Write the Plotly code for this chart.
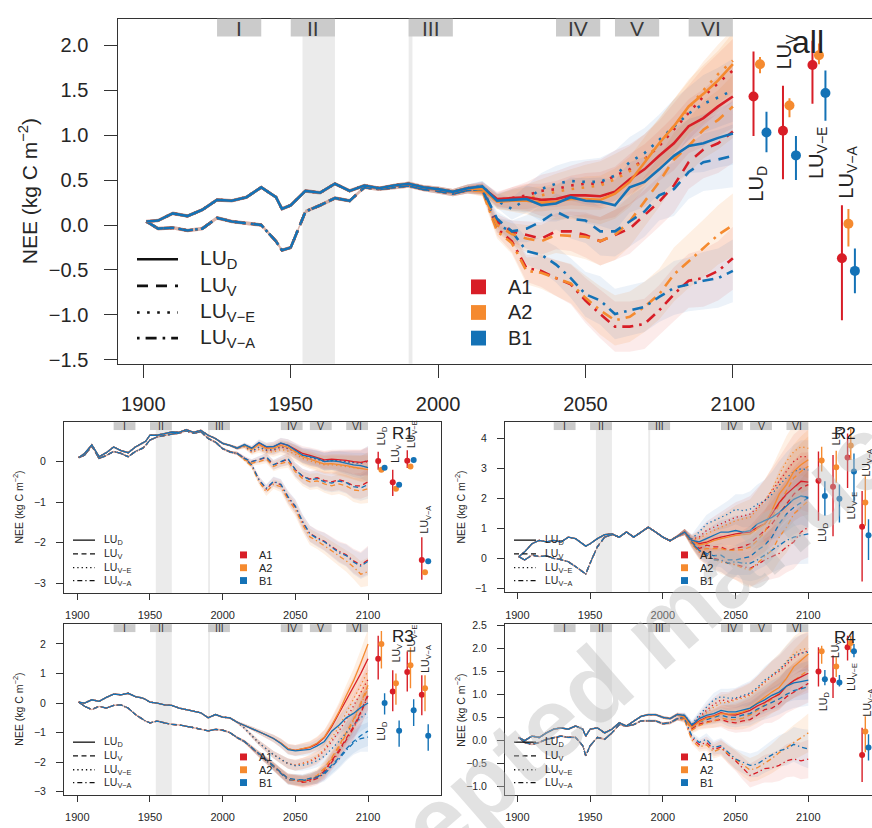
import plotly.graph_objects as go

W, H = 872, 828

# ---------------- data ----------------
HIST_YEARS = [1901, 1905, 1910, 1915, 1920, 1925, 1930, 1935, 1940, 1945, 1947,
              1950, 1955, 1960, 1965, 1970, 1975, 1980, 1985, 1990, 1995, 2000, 2005, 2010]
FUT_YEARS = [2015, 2020, 2025, 2030, 2035, 2040, 2045, 2050, 2055, 2060,
             2065, 2070, 2075, 2080, 2085, 2090, 2095, 2100]
HIST_SPREAD = [0.02, 0.02, 0.02, 0.02, 0.02, 0.02, 0.02, 0.02, 0.02, 0.02, 0.02, 0.02,
               0.02, 0.02, 0.02, 0.02, 0.02, 0.02, 0.02, 0.025, 0.025, 0.03, 0.03, 0.04]

SCENARIOS = ["A1", "A2", "B1"]
LAND_USES = ["D", "V", "VE", "VA"]
LU_LABELS = ["LU<sub>D</sub>", "LU<sub>V</sub>", "LU<sub>V\u2212E</sub>", "LU<sub>V\u2212A</sub>"]
PERIOD_LABELS = ["I", "II", "III", "IV", "V", "VI"]
PERIOD_START = [1925, 1950, 1990, 2040, 2060, 2085]
PERIOD_END = [1940, 1965, 2005, 2055, 2075, 2100]
SHADE_START = [1954, 1990]
SHADE_END = [1965, 1991.3]
PANEL_NAMES = ["all", "R1", "R2", "R3", "R4"]

# ---- all ----
ALL_UP = [0.04, 0.05, 0.13, 0.10, 0.17, 0.28, 0.27, 0.31, 0.42, 0.31, 0.18, 0.22, 0.38, 0.36, 0.46, 0.38, 0.44, 0.41, 0.44, 0.46, 0.42, 0.40, 0.37, 0.41]
ALL_LO = [0.04, -0.04, -0.03, -0.06, -0.04, 0.08, 0.04, 0.02, 0.00, -0.18, -0.28, -0.25, 0.15, 0.22, 0.30, 0.27, 0.42, 0.40, 0.42, 0.44, 0.40, 0.38, 0.35, 0.39]
ALL_D_A1 = [0.42, 0.29, 0.30, 0.31, 0.28, 0.29, 0.33, 0.33, 0.32, 0.37, 0.51, 0.62, 0.77, 0.91, 1.10, 1.19, 1.32, 1.43]
ALL_D_A2 = [0.40, 0.26, 0.27, 0.27, 0.25, 0.26, 0.29, 0.29, 0.28, 0.35, 0.48, 0.70, 0.91, 1.10, 1.32, 1.46, 1.61, 1.79]
ALL_D_B1 = [0.43, 0.27, 0.28, 0.29, 0.22, 0.24, 0.31, 0.27, 0.26, 0.22, 0.42, 0.48, 0.62, 0.77, 0.88, 0.91, 0.97, 1.02]
ALL_VE_A1 = [0.42, 0.28, 0.30, 0.33, 0.38, 0.40, 0.44, 0.46, 0.46, 0.55, 0.62, 0.73, 0.88, 1.06, 1.25, 1.43, 1.58, 1.72]
ALL_VE_A2 = [0.40, 0.26, 0.28, 0.30, 0.33, 0.37, 0.40, 0.42, 0.44, 0.51, 0.60, 0.73, 0.90, 1.10, 1.30, 1.50, 1.68, 1.83]
ALL_VE_B1 = [0.43, 0.27, 0.18, 0.29, 0.40, 0.46, 0.49, 0.48, 0.48, 0.55, 0.70, 0.80, 0.95, 1.10, 1.24, 1.35, 1.42, 1.50]
ALL_V_A1 = [0.40, 0.04, -0.07, -0.11, -0.15, -0.07, -0.07, -0.11, -0.18, -0.11, -0.04, 0.11, 0.26, 0.44, 0.70, 0.84, 0.91, 1.04]
ALL_V_A2 = [0.38, 0.00, -0.10, -0.15, -0.18, -0.11, -0.12, -0.13, -0.18, -0.11, 0.04, 0.26, 0.48, 0.73, 0.88, 1.06, 1.17, 1.32]
ALL_V_B1 = [0.40, 0.07, -0.07, -0.04, 0.04, 0.15, 0.07, 0.05, -0.07, -0.07, 0.04, 0.15, 0.33, 0.40, 0.59, 0.70, 0.73, 0.77]
ALL_VA_A1 = [0.40, -0.04, -0.18, -0.48, -0.51, -0.59, -0.66, -0.84, -0.99, -1.13, -1.13, -1.10, -0.95, -0.77, -0.62, -0.59, -0.51, -0.37]
ALL_VA_A2 = [0.38, -0.07, -0.20, -0.51, -0.53, -0.59, -0.65, -0.81, -0.95, -1.06, -1.02, -0.91, -0.77, -0.55, -0.40, -0.26, -0.11, 0.00]
ALL_VA_B1 = [0.40, 0.00, -0.07, -0.29, -0.33, -0.44, -0.59, -0.77, -0.84, -0.99, -0.95, -0.91, -0.80, -0.70, -0.66, -0.62, -0.59, -0.51]
ALL_SPREAD = [0.06, 0.08, 0.12, 0.15, 0.18, 0.20, 0.22, 0.25, 0.27, 0.28, 0.28, 0.28, 0.28, 0.30, 0.30, 0.32, 0.33, 0.35]
ALL_MEAN_A1 = [1.43, 1.05, 1.78, -0.37]
ALL_LOW_A1 = [0.99, 0.51, 1.35, -1.06]
ALL_HIGH_A1 = [1.93, 1.55, 2.05, 0.22]
ALL_MEAN_A2 = [1.79, 1.33, 1.89, 0.015]
ALL_LOW_A2 = [1.69, 1.20, 1.79, -0.24]
ALL_HIGH_A2 = [1.87, 1.41, 2.02, 0.18]
ALL_MEAN_B1 = [1.03, 0.775, 1.47, -0.51]
ALL_LOW_B1 = [0.81, 0.50, 1.16, -0.76]
ALL_HIGH_B1 = [1.26, 0.99, 1.72, -0.26]
ALL_LABEL_X = [2108.5, 2118.0, 2128.5, 2138.6]
ALL_LABEL_Y = [0.46, 1.93, 0.80, 0.59]

# ---- R1 ----
R1_UP = [0.10, 0.20, 0.41, 0.12, 0.22, 0.36, 0.27, 0.22, 0.36, 0.45, 0.50, 0.65, 0.65, 0.69, 0.73, 0.72, 0.79, 0.72, 0.77, 0.65, 0.57, 0.45, 0.40, 0.33]
R1_LO = [0.10, 0.16, 0.38, 0.08, 0.15, 0.25, 0.20, 0.12, 0.25, 0.33, 0.40, 0.53, 0.61, 0.65, 0.68, 0.70, 0.76, 0.70, 0.74, 0.57, 0.48, 0.32, 0.24, 0.20]
R1_D_A1 = [0.41, 0.33, 0.46, 0.36, 0.37, 0.45, 0.40, 0.30, 0.20, 0.15, 0.10, 0.04, 0.06, 0.05, 0.03, 0.00, -0.02, 0.02]
R1_D_A2 = [0.40, 0.30, 0.42, 0.32, 0.33, 0.40, 0.35, 0.24, 0.12, 0.06, 0.00, -0.06, -0.05, -0.07, -0.10, -0.14, -0.17, -0.20]
R1_D_B1 = [0.42, 0.33, 0.47, 0.37, 0.37, 0.46, 0.40, 0.28, 0.16, 0.12, 0.08, 0.00, 0.02, 0.00, -0.04, -0.08, -0.10, -0.15]
R1_VE_A1 = [0.38, 0.25, 0.35, 0.28, 0.28, 0.36, 0.32, 0.24, 0.15, 0.10, 0.06, 0.02, 0.03, 0.02, 0.00, -0.02, -0.04, 0.00]
R1_VE_A2 = [0.36, 0.22, 0.30, 0.24, 0.24, 0.30, 0.26, 0.18, 0.08, 0.02, -0.04, -0.08, -0.08, -0.10, -0.12, -0.15, -0.18, -0.12]
R1_VE_B1 = [0.39, 0.26, 0.36, 0.29, 0.30, 0.38, 0.33, 0.25, 0.14, 0.10, 0.06, 0.00, 0.02, 0.02, 0.00, -0.03, -0.05, 0.04]
R1_V_A1 = [0.08, 0.00, 0.05, 0.10, -0.08, 0.00, 0.06, -0.20, -0.36, -0.43, -0.40, -0.47, -0.50, -0.45, -0.50, -0.60, -0.60, -0.50]
R1_V_A2 = [0.05, -0.04, 0.00, 0.06, -0.12, -0.05, 0.00, -0.25, -0.42, -0.50, -0.48, -0.55, -0.60, -0.55, -0.60, -0.70, -0.72, -0.67]
R1_V_B1 = [0.08, 0.00, 0.05, 0.12, -0.08, 0.00, 0.07, -0.20, -0.36, -0.45, -0.42, -0.50, -0.53, -0.48, -0.52, -0.62, -0.65, -0.57]
R1_VA_A1 = [0.08, -0.08, -0.45, -0.68, -0.50, -0.57, -0.89, -1.12, -1.50, -1.78, -1.88, -1.97, -2.10, -2.22, -2.30, -2.45, -2.55, -2.43]
R1_VA_A2 = [0.05, -0.12, -0.50, -0.75, -0.56, -0.62, -0.94, -1.18, -1.56, -1.86, -1.96, -2.07, -2.20, -2.33, -2.45, -2.60, -2.78, -2.72]
R1_VA_B1 = [0.08, -0.08, -0.45, -0.66, -0.49, -0.56, -0.87, -1.10, -1.48, -1.78, -1.90, -1.98, -2.12, -2.25, -2.32, -2.48, -2.58, -2.46]
R1_SPREAD = [0.05, 0.06, 0.08, 0.10, 0.12, 0.13, 0.15, 0.17, 0.18, 0.20, 0.20, 0.22, 0.23, 0.25, 0.27, 0.30, 0.32, 0.35]
R1_MEAN_A1 = [0.015, -0.51, 0.02, -2.43]
R1_LOW_A1 = [-0.20, -0.85, -0.16, -2.92]
R1_HIGH_A1 = [0.24, -0.20, 0.28, -1.87]
R1_MEAN_A2 = [-0.20, -0.67, -0.12, -2.73]
R1_LOW_A2 = [-0.25, -0.72, -0.17, -2.78]
R1_HIGH_A2 = [-0.15, -0.62, -0.07, -2.68]
R1_MEAN_B1 = [-0.15, -0.57, 0.04, -2.46]
R1_LOW_B1 = [-0.20, -0.62, -0.01, -2.51]
R1_HIGH_B1 = [-0.10, -0.52, 0.09, -2.41]
R1_LABEL_X = [2109.4, 2119.5, 2129.8, 2139.8]
R1_LABEL_Y = [0.64, 0.20, 0.69, -1.43]

# ---- R2 ----
R2_UP = [0.07, 0.23, 0.50, 0.61, 0.56, 0.61, 0.56, 0.72, 0.67, 0.50, 0.42, 0.50, 0.67, 0.80, 0.83, 0.72, 0.89, 0.72, 0.89, 1.05, 0.89, 0.72, 0.60, 0.75]
R2_LO = [0.07, -0.04, 0.12, 0.07, 0.10, 0.01, -0.03, -0.10, -0.26, -0.43, -0.51, -0.15, 0.40, 0.72, 0.80, 0.72, 0.89, 0.72, 0.89, 1.05, 0.89, 0.72, 0.60, 0.75]
R2_D_A1 = [0.89, 0.61, 0.50, 0.55, 0.65, 0.72, 0.78, 0.83, 0.86, 0.89, 1.05, 1.16, 1.49, 1.87, 2.15, 2.36, 2.58, 2.55]
R2_D_A2 = [0.89, 0.61, 0.46, 0.50, 0.60, 0.67, 0.72, 0.78, 0.80, 0.83, 1.00, 1.16, 1.60, 2.15, 2.47, 2.91, 3.13, 3.30]
R2_D_B1 = [0.89, 0.61, 0.56, 0.67, 0.78, 0.89, 0.89, 0.94, 0.89, 0.94, 1.16, 1.27, 1.38, 1.54, 1.76, 1.98, 2.09, 2.04]
R2_VE_A1 = [0.89, 0.65, 0.72, 0.94, 1.05, 1.16, 1.27, 1.38, 1.42, 1.49, 1.71, 1.93, 2.26, 2.58, 2.91, 3.24, 3.40, 3.40]
R2_VE_A2 = [0.89, 0.63, 0.67, 0.83, 0.94, 1.05, 1.16, 1.27, 1.33, 1.38, 1.65, 1.93, 2.30, 2.80, 3.24, 3.57, 3.73, 3.68]
R2_VE_B1 = [0.89, 0.67, 0.89, 1.16, 1.27, 1.38, 1.49, 1.65, 1.60, 1.65, 1.82, 1.93, 2.15, 2.45, 2.70, 2.90, 3.00, 2.95]
R2_V_A1 = [0.89, 0.55, 0.34, 0.45, 0.40, 0.39, 0.28, 0.34, 0.40, 0.50, 0.72, 0.94, 1.16, 1.49, 1.82, 2.15, 2.36, 2.47]
R2_V_A2 = [0.89, 0.52, 0.28, 0.34, 0.34, 0.34, 0.28, 0.28, 0.30, 0.39, 0.61, 0.89, 1.38, 1.82, 2.26, 2.69, 2.91, 3.08]
R2_V_B1 = [0.89, 0.56, 0.28, 0.18, 0.10, 0.12, -0.04, -0.04, 0.01, 0.07, 0.28, 0.45, 0.72, 1.16, 1.49, 1.71, 1.87, 2.04]
R2_VA_A1 = [0.89, 0.50, 0.23, 0.12, 0.01, -0.04, -0.15, -0.20, -0.26, -0.32, -0.20, -0.04, 0.07, 0.18, 0.39, 0.56, 0.89, 1.05]
R2_VA_A2 = [0.89, 0.48, 0.23, 0.07, -0.02, -0.10, -0.15, -0.20, -0.32, -0.37, -0.15, 0.07, 0.28, 0.72, 1.05, 1.49, 1.71, 1.93]
R2_VA_B1 = [0.89, 0.52, 0.28, 0.12, -0.04, -0.04, -0.15, -0.10, -0.15, -0.15, -0.04, 0.12, 0.28, 0.45, 0.61, 0.72, 0.78, 0.83]
R2_SPREAD = [0.10, 0.15, 0.25, 0.30, 0.35, 0.40, 0.45, 0.50, 0.55, 0.60, 0.65, 0.70, 0.75, 0.80, 0.85, 0.90, 0.95, 1.00]
R2_MEAN_A1 = [2.60, 2.40, 3.37, 1.07]
R2_LOW_A1 = [1.27, 0.75, 2.36, -0.76]
R2_HIGH_A1 = [3.57, 3.46, 4.17, 2.26]
R2_MEAN_A2 = [3.27, 3.05, 3.77, 1.87]
R2_LOW_A2 = [2.91, 2.53, 3.29, 1.10]
R2_HIGH_A2 = [3.73, 3.60, 4.33, 2.75]
R2_MEAN_B1 = [2.09, 2.00, 2.91, 0.78]
R2_LOW_B1 = [1.43, 1.21, 1.87, -0.04]
R2_HIGH_B1 = [2.58, 2.47, 3.51, 1.32]
R2_LABEL_X = [2109.9, 2119.5, 2129.8, 2140.1]
R2_LABEL_Y = [0.89, 4.07, 1.77, 3.19]

# ---- R3 ----
R3_UP = [0.03, 0.00, 0.11, 0.06, 0.19, 0.30, 0.28, 0.33, 0.22, 0.17, 0.12, 0.03, 0.00, -0.06, -0.08, -0.17, -0.22, -0.28, -0.33, -0.50, -0.39, -0.48, -0.50, -0.65]
R3_LO = [0.03, -0.11, -0.22, -0.11, -0.17, -0.08, -0.06, -0.17, -0.39, -0.56, -0.61, -0.67, -0.61, -0.67, -0.72, -0.74, -0.78, -0.83, -0.89, -0.94, -0.89, -0.92, -1.00, -1.17]
R3_D_A1 = [-0.75, -0.85, -0.97, -1.08, -1.20, -1.35, -1.55, -1.60, -1.55, -1.50, -1.38, -1.17, -0.80, -0.35, 0.10, 0.50, 1.00, 1.50]
R3_D_A2 = [-0.75, -0.85, -0.97, -1.08, -1.20, -1.35, -1.55, -1.60, -1.55, -1.48, -1.35, -1.15, -0.75, -0.30, 0.25, 0.75, 1.35, 2.00]
R3_D_B1 = [-0.75, -0.85, -0.97, -1.08, -1.20, -1.37, -1.58, -1.62, -1.60, -1.57, -1.45, -1.30, -0.95, -0.75, -0.50, -0.35, -0.15, 0.00]
R3_VE_A1 = [-0.85, -1.10, -1.35, -1.55, -1.75, -1.90, -2.05, -2.10, -2.05, -1.98, -1.85, -1.60, -1.30, -0.95, -0.55, -0.10, 0.35, 0.80]
R3_VE_A2 = [-0.85, -1.10, -1.35, -1.55, -1.75, -1.90, -2.05, -2.10, -2.05, -1.95, -1.80, -1.55, -1.20, -0.80, -0.35, 0.15, 0.60, 1.10]
R3_VE_B1 = [-0.85, -1.10, -1.35, -1.55, -1.75, -1.90, -2.05, -2.12, -2.10, -2.05, -1.95, -1.80, -1.55, -1.30, -1.00, -0.75, -0.50, -0.30]
R3_V_A1 = [-1.30, -1.50, -1.72, -1.92, -2.12, -2.35, -2.55, -2.60, -2.65, -2.60, -2.50, -2.30, -1.95, -1.60, -1.20, -0.80, -0.30, 0.30]
R3_V_A2 = [-1.30, -1.50, -1.72, -1.92, -2.12, -2.35, -2.55, -2.60, -2.62, -2.55, -2.45, -2.20, -1.85, -1.45, -1.00, -0.55, 0.00, 0.60]
R3_V_B1 = [-1.30, -1.50, -1.72, -1.92, -2.12, -2.35, -2.55, -2.58, -2.60, -2.55, -2.50, -2.35, -2.10, -1.85, -1.55, -1.30, -1.10, -0.95]
R3_VA_A1 = [-1.30, -1.52, -1.75, -1.95, -2.15, -2.38, -2.58, -2.62, -2.68, -2.65, -2.55, -2.35, -2.00, -1.65, -1.25, -0.85, -0.35, 0.25]
R3_VA_A2 = [-1.30, -1.52, -1.75, -1.95, -2.15, -2.38, -2.58, -2.62, -2.65, -2.60, -2.50, -2.25, -1.90, -1.50, -1.05, -0.60, -0.05, 0.50]
R3_VA_B1 = [-1.30, -1.52, -1.75, -1.95, -2.15, -2.38, -2.60, -2.60, -2.62, -2.58, -2.52, -2.40, -2.15, -1.90, -1.60, -1.35, -1.20, -1.15]
R3_SPREAD = [0.05, 0.07, 0.09, 0.11, 0.13, 0.15, 0.17, 0.18, 0.19, 0.20, 0.22, 0.25, 0.28, 0.32, 0.36, 0.40, 0.45, 0.50]
R3_MEAN_A1 = [1.50, 0.39, 1.05, 0.28]
R3_LOW_A1 = [0.80, -0.28, 0.39, -0.41]
R3_HIGH_A1 = [2.28, 1.11, 1.74, 0.94]
R3_MEAN_A2 = [2.00, 0.67, 1.28, 0.50]
R3_LOW_A2 = [1.17, -0.06, 0.50, -0.28]
R3_HIGH_A2 = [2.44, 1.00, 1.89, 0.94]
R3_MEAN_B1 = [0.00, -0.94, -0.24, -1.11]
R3_LOW_B1 = [-0.39, -1.48, -0.78, -1.61]
R3_HIGH_B1 = [0.33, -0.59, 0.13, -0.72]
R3_LABEL_X = [2109.4, 2119.7, 2130.0, 2140.1]
R3_LABEL_Y = [-0.94, 1.67, 2.18, 1.51]

# ---- R4 ----
R4_UP = [0.06, -0.01, 0.09, 0.06, 0.16, 0.24, 0.27, 0.24, 0.31, 0.24, 0.09, 0.24, 0.27, 0.16, 0.24, 0.38, 0.31, 0.42, 0.52, 0.56, 0.56, 0.50, 0.47, 0.56]
R4_LO = [0.06, -0.05, -0.09, -0.05, 0.02, 0.06, 0.09, 0.06, 0.06, -0.12, -0.34, -0.12, 0.06, 0.02, 0.16, 0.34, 0.31, 0.34, 0.42, 0.42, 0.42, 0.36, 0.38, 0.47]
R4_D_A1 = [0.52, 0.31, 0.42, 0.50, 0.53, 0.60, 0.56, 0.55, 0.60, 0.65, 0.75, 0.82, 0.92, 1.00, 1.18, 1.30, 1.38, 1.46]
R4_D_A2 = [0.50, 0.28, 0.40, 0.48, 0.52, 0.58, 0.57, 0.58, 0.62, 0.70, 0.82, 0.92, 1.05, 1.15, 1.35, 1.60, 1.74, 1.88]
R4_D_B1 = [0.54, 0.33, 0.47, 0.54, 0.58, 0.65, 0.62, 0.62, 0.66, 0.70, 0.80, 0.88, 0.98, 1.05, 1.18, 1.25, 1.28, 1.31]
R4_VE_A1 = [0.52, 0.30, 0.50, 0.65, 0.78, 0.88, 0.85, 0.90, 0.95, 1.00, 1.12, 1.25, 1.40, 1.50, 1.65, 1.80, 1.90, 1.95]
R4_VE_A2 = [0.50, 0.28, 0.45, 0.60, 0.72, 0.82, 0.82, 0.88, 0.92, 0.98, 1.12, 1.28, 1.42, 1.55, 1.72, 1.88, 1.98, 2.00]
R4_VE_B1 = [0.54, 0.35, 0.55, 0.72, 0.88, 0.95, 0.92, 0.92, 0.98, 1.03, 1.15, 1.31, 1.42, 1.53, 1.70, 1.85, 1.90, 1.92]
R4_V_A1 = [0.48, 0.25, 0.35, 0.40, 0.42, 0.45, 0.40, 0.38, 0.42, 0.45, 0.55, 0.67, 0.70, 0.80, 0.95, 1.05, 1.15, 1.24]
R4_V_A2 = [0.46, 0.22, 0.32, 0.38, 0.42, 0.48, 0.45, 0.45, 0.48, 0.55, 0.65, 0.78, 0.90, 1.02, 1.18, 1.30, 1.42, 1.53]
R4_V_B1 = [0.50, 0.28, 0.40, 0.45, 0.50, 0.55, 0.50, 0.50, 0.55, 0.58, 0.68, 0.75, 0.82, 0.90, 1.00, 1.08, 1.12, 1.17]
R4_VA_A1 = [0.45, 0.05, -0.10, -0.05, -0.20, -0.15, -0.32, -0.45, -0.62, -0.77, -0.70, -0.62, -0.60, -0.55, -0.45, -0.41, -0.45, -0.41]
R4_VA_A2 = [0.43, 0.00, -0.15, -0.10, -0.25, -0.18, -0.30, -0.42, -0.55, -0.65, -0.60, -0.50, -0.40, -0.27, -0.15, -0.05, 0.05, 0.16]
R4_VA_B1 = [0.47, 0.09, -0.05, 0.02, -0.16, -0.12, -0.27, -0.41, -0.48, -0.55, -0.52, -0.41, -0.32, -0.23, -0.19, -0.09, -0.15, -0.19]
R4_SPREAD = [0.06, 0.08, 0.10, 0.13, 0.15, 0.17, 0.20, 0.22, 0.24, 0.26, 0.28, 0.30, 0.32, 0.34, 0.36, 0.38, 0.40, 0.42]
R4_MEAN_A1 = [1.50, 1.31, 2.03, -0.32]
R4_LOW_A1 = [1.17, 0.92, 1.74, -0.91]
R4_HIGH_A1 = [2.03, 1.85, 2.28, 0.27]
R4_MEAN_A2 = [1.94, 1.61, 2.12, 0.19]
R4_LOW_A2 = [1.67, 1.38, 1.92, -0.26]
R4_HIGH_A2 = [2.06, 1.81, 2.28, 0.52]
R4_MEAN_B1 = [1.33, 1.26, 1.94, -0.16]
R4_LOW_B1 = [1.20, 1.17, 1.81, -0.44]
R4_HIGH_B1 = [1.53, 1.42, 2.10, 0.13]
R4_LABEL_X = [2110.3, 2119.5, 2130.2, 2141.2]
R4_LABEL_Y = [0.84, 1.98, 1.39, 0.83]

POINT_GROUP_X = [2107, 2117, 2127, 2137]
POINT_OFFSET = [0.0, 2.2, 4.4]

# ---------------- assembling ----------------
G = globals()
COLORS = {"A1": "#D81E27", "A2": "#F58A2F", "B1": "#1472B6"}
BANDS = {"A1": "rgba(222,60,50,0.10)", "A2": "rgba(246,140,50,0.13)", "B1": "rgba(40,110,190,0.09)"}
FONT = "Liberation Sans, Arial, Helvetica, sans-serif"
TXT = "#262626"
AX = "#333333"

# pixel geometry of each panel box (layout only)
GEOM = {
    "all": dict(x0=118.3, x1=872, y0=14, y1=364, xr=[1891.5, 2147.2], yr=[-1.543, 2.295],
                yt=[-1.5, -1.0, -0.5, 0.0, 0.5, 1.0, 1.5, 2.0], fmt=".1f", big=True, mirror_y=False,
                title_xy=(808, 38), ylab=(28, 189)),
    "R1": dict(x0=64, x1=441, y0=423.3, y1=596.7, xr=[1890.86, 2150.2], yr=[-3.246, 0.973],
               yt=[-3, -2, -1, 0], fmt="d", big=False, mirror_y=True,
               title_xy=(403, 435), ylab=(18, 510)),
    "R2": dict(x0=505, x1=872, y0=423.3, y1=596, xr=[1891.5, 2143.8], yr=[-1.12, 4.55],
               yt=[-1, 0, 1, 2, 3, 4], fmt="d", big=False, mirror_y=False,
               title_xy=(845, 435), ylab=(460, 509)),
    "R3": dict(x0=64, x1=441, y0=628.3, y1=801.7, xr=[1890.86, 2150.2], yr=[-3.113, 2.667],
               yt=[-3, -2, -1, 0, 1, 2], fmt="d", big=False, mirror_y=True,
               title_xy=(403, 641), ylab=(18, 715)),
    "R4": dict(x0=505, x1=872, y0=628.3, y1=801.7, xr=[1891.5, 2143.8], yr=[-1.197, 2.531],
               yt=[-1.0, -0.5, 0.0, 0.5, 1.0, 1.5, 2.0, 2.5], fmt=".1f", big=False, mirror_y=False,
               title_xy=(845, 642), ylab=(460, 715)),
}


def px(x):
    return x / W


def py(y):
    return 1 - y / H


fig = go.Figure()
shapes = []
annotations = []

LINE_STYLE_BIG = {"D": "solid", "V": "11px,8px", "VE": "2.6px,7.5px", "VA": "2.6px,6px,11px,6px"}
LINE_STYLE_SMALL = {"D": "solid", "V": "5px,3.5px", "VE": "1.3px,3px", "VA": "1.3px,3px,5px,3px"}
HIST_GROUP = {"D": "UP", "VE": "UP", "V": "LO", "VA": "LO"}
DRAW_ORDER = ["VA", "V", "VE", "D"]

# watermark (drawn first so that panel texts stay readable on top of it)
annotations.append(dict(x=px(660), y=py(632), xref="paper", yref="paper",
                        text="<b>Accepted manuscript</b>", showarrow=False, textangle=-41,
                        xanchor="center", yanchor="middle",
                        font=dict(size=100, color="rgba(185,185,185,0.42)", family=FONT)))

for i, name in enumerate(PANEL_NAMES):
    g = GEOM[name]
    n = "" if i == 0 else str(i + 1)
    xa, ya = "x" + n, "y" + n
    pre = "ALL" if name == "all" else name
    big = g["big"]
    lw = 2.6 if big else 1.3
    styles = LINE_STYLE_BIG if big else LINE_STYLE_SMALL
    spread = HIST_SPREAD + G[pre + "_SPREAD"]
    years = HIST_YEARS + FUT_YEARS

    # bands
    for lu in DRAW_ORDER:
        for sc in SCENARIOS:
            vals = G[pre + "_" + HIST_GROUP[lu]] + G[pre + "_" + lu + "_" + sc]
            up = [v + s for v, s in zip(vals, spread)]
            lo = [v - s for v, s in zip(vals, spread)]
            fig.add_trace(go.Scatter(x=years + years[::-1], y=up + lo[::-1], fill="toself",
                                     fillcolor=BANDS[sc], line=dict(width=0), mode="lines",
                                     hoverinfo="skip", xaxis=xa, yaxis=ya, showlegend=False))
    # lines
    for lu in DRAW_ORDER:
        for sc in SCENARIOS:
            vals = G[pre + "_" + HIST_GROUP[lu]] + G[pre + "_" + lu + "_" + sc]
            fig.add_trace(go.Scatter(x=years, y=vals, mode="lines",
                                     line=dict(color=COLORS[sc], width=lw, dash=styles[lu]),
                                     xaxis=xa, yaxis=ya, showlegend=False))
    # points with error bars
    for k, sc in enumerate(SCENARIOS):
        mean = G[pre + "_MEAN_" + sc]
        low = G[pre + "_LOW_" + sc]
        high = G[pre + "_HIGH_" + sc]
        fig.add_trace(go.Scatter(
            x=[gx + POINT_OFFSET[k] for gx in POINT_GROUP_X], y=mean, mode="markers",
            marker=dict(color=COLORS[sc], size=10 if big else 6),
            error_y=dict(type="data", symmetric=False,
                         array=[h - m for h, m in zip(high, mean)],
                         arrayminus=[m - l for m, l in zip(mean, low)],
                         color=COLORS[sc], thickness=2 if big else 1.4, width=0),
            xaxis=xa, yaxis=ya, showlegend=False, cliponaxis=False))

    # axes
    xdom = [px(g["x0"]), min(px(g["x1"]), 1.0)]
    ydom = [py(g["y1"]), py(g["y0"])]
    fs_tick = 20 if big else 10.5
    fig.update_layout(**{
        ("xaxis" + n): dict(domain=xdom, range=g["xr"], anchor=ya, showgrid=False, zeroline=False,
                            showline=True, mirror=True, linecolor=AX, linewidth=1,
                            tickvals=[1900, 1950, 2000, 2050, 2100], ticks="outside",
                            ticklen=13 if big else 6, tickcolor=AX,
                            ticklabelstandoff=9 if big else 6,
                            tickfont=dict(size=fs_tick if big else 11, color=TXT, family=FONT)),
        ("yaxis" + n): dict(domain=ydom, range=g["yr"], anchor=xa, showgrid=False, zeroline=False,
                            showline=True, mirror=g["mirror_y"], linecolor=AX, linewidth=1,
                            tickvals=g["yt"], tickformat=g["fmt"], ticks="outside",
                            ticklen=13 if big else 7, tickcolor=AX,
                            ticklabelstandoff=12 if big else 8,
                            tickfont=dict(size=fs_tick, color=TXT, family=FONT)),
    })

    # shaded periods
    for s0, s1 in zip(SHADE_START, SHADE_END):
        shapes.append(dict(type="rect", xref=xa, yref=ya + " domain", x0=s0, x1=s1, y0=0, y1=1,
                           fillcolor="#ebebeb", line=dict(width=0), layer="below"))
    # period bars
    bar_h = 18 if big else 8
    bar_frac = bar_h / (g["y1"] - g["y0"])
    for lab, p0, p1 in zip(PERIOD_LABELS, PERIOD_START, PERIOD_END):
        shapes.append(dict(type="rect", xref=xa, yref=ya + " domain", x0=p0, x1=p1,
                           y0=1 - bar_frac, y1=1, fillcolor="#cbcbcb", line=dict(width=0), layer="above"))
        annotations.append(dict(x=(p0 + p1) / 2, y=py(g["y0"] + (9.5 if big else 4.3)), xref=xa, yref="paper",
                                text=lab, showarrow=False, xanchor="center", yanchor="middle",
                                font=dict(size=21 if big else 10.5, color="#3a3a3a", family=FONT)))

    # LU labels near points
    for lab, lx, ly in zip(LU_LABELS, G[pre + "_LABEL_X"], G[pre + "_LABEL_Y"]):
        annotations.append(dict(x=lx, y=ly, xref=xa, yref=ya, text=lab, showarrow=False,
                                textangle=-90, xanchor="center", yanchor="middle",
                                font=dict(size=20 if big else 10.5, color=TXT, family=FONT)))
    # panel title
    tx, ty = g["title_xy"]
    annotations.append(dict(x=px(tx), y=py(ty), xref="paper", yref="paper", text=name,
                            showarrow=False, xanchor="center", yanchor="middle",
                            font=dict(size=32 if big else 17, color="#222222", family=FONT)))
    # y axis title
    lx_, ly_ = g["ylab"]
    annotations.append(dict(x=px(lx_), y=py(ly_), xref="paper", yref="paper",
                            text="NEE (kg C m<sup>\u22122</sup>)", showarrow=False, textangle=-90,
                            xanchor="center", yanchor="middle",
                            font=dict(size=21 if big else 10.5, color=TXT, family=FONT)))

    # legends (land use line styles + scenario squares)
    if big:
        lx0, lx1, ltx = 137, 178, 198
        lys = [258, 285, 312, 338]
        sqx, sqs, stx = 471, 15, 506
        sys_ = [286, 312, 338]
        lfs, sfs, llw = 21, 20, 2.6
    else:
        offx = g["x0"] - 64
        base = 543 if g["y0"] < 500 else 748
        lx0, lx1, ltx = 73 + offx, 95 + offx, 102 + offx
        lys = [base, base + 14, base + 28, base + 41]
        sqx, sqs, stx = 240 + offx, 7, 257 + offx
        sys_ = [base + 15, base + 28, base + 41]
        lfs, sfs, llw = 10.5, 11, 1.3
    for lu, lab, yy in zip(LAND_USES, LU_LABELS, lys):
        shapes.append(dict(type="line", xref="paper", yref="paper", x0=px(lx0), x1=px(lx1),
                           y0=py(yy), y1=py(yy), line=dict(color="#111111", width=llw, dash=styles[lu])))
        annotations.append(dict(x=px(ltx), y=py(yy), xref="paper", yref="paper", text=lab,
                                showarrow=False, xanchor="left", yanchor="middle",
                                font=dict(size=lfs, color=TXT, family=FONT)))
    for sc, yy in zip(SCENARIOS, sys_):
        shapes.append(dict(type="rect", xref="paper", yref="paper", x0=px(sqx), x1=px(sqx + sqs),
                           y0=py(yy + sqs / 2), y1=py(yy - sqs / 2), fillcolor=COLORS[sc], line=dict(width=0)))
        annotations.append(dict(x=px(stx), y=py(yy), xref="paper", yref="paper", text=sc,
                                showarrow=False, xanchor="left", yanchor="middle",
                                font=dict(size=sfs, color=TXT, family=FONT)))

fig.update_layout(width=W, height=H, margin=dict(l=0, r=0, t=0, b=0),
                  paper_bgcolor="white", plot_bgcolor="white", showlegend=False,
                  shapes=shapes, annotations=annotations, font=dict(family=FONT, color=TXT))

fig.write_html("out.html")
